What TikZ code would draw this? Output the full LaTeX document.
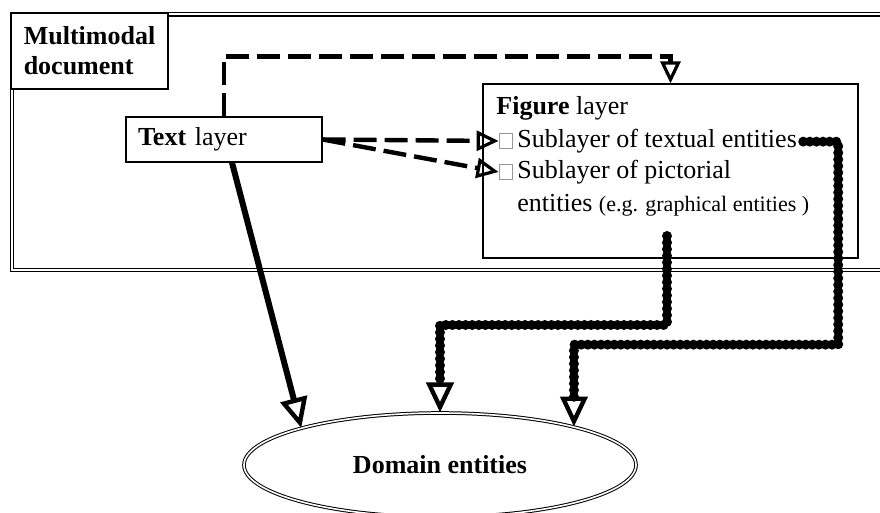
\documentclass[tikz,border=0pt]{standalone}
\usepackage{fontspec}
\setmainfont{Liberation Serif}
\usepackage{tikz}
\usetikzlibrary{arrows.meta,shapes,positioning}
\definecolor{lnblack}{RGB}{0,0,0}
\definecolor{boxgray}{RGB}{150,150,150}
\newcommand{\diagfont}{\fontsize{13}{15}\selectfont}
\tikzstyle{frame} = [draw=lnblack, double, line width=0.6pt, double distance=1pt]
\tikzstyle{layerbox} = [draw=lnblack, line width=0.6pt, rectangle, inner sep=0pt]
\tikzstyle{linetext} = [anchor=base west, inner sep=0pt]
\tikzstyle{checkbox} = [draw=boxgray, line width=0.4pt, rectangle, inner sep=0pt, minimum width=6.5pt, minimum height=7.5pt]
\tikzstyle{dasharrow} = [draw=lnblack, line width=2.2pt, dash pattern=on 11.5pt off 4pt, -{Triangle[open, length=11pt, width=10pt, line width=1.6pt]}]
\tikzstyle{chainarrow} = [draw=lnblack, line width=5pt, line cap=round, dash pattern=on 0pt off 3.3pt, -{Triangle[open, length=15pt, width=13.5pt, line width=2.2pt]}]
\tikzstyle{solidarrow} = [draw=lnblack, line width=3pt, -{Triangle[open, length=15pt, width=13.5pt, line width=2.2pt]}]

\begin{document}
\begin{tikzpicture}[x=0.5pt, y=-0.5pt, font=\diagfont]
\useasboundingbox (0,0) rectangle (880,513);
% Document frame
\draw[frame] (12,14.5) rectangle (900,270);
\node[layerbox, fill=white, minimum width=78.5pt, minimum height=38pt, align=left, font=\diagfont\bfseries] (mmdoc) at (89.5,51) {Multimodal\\document};

% Layers
\node[layerbox, minimum height=22.5pt, text width=86pt, inner xsep=6pt, align=left] (textlayer) at (224,139.5) {\textbf{Text} layer};
\node[layerbox, minimum width=187.5pt, minimum height=87pt] (figlayer) at (670.5,171) {};
\node[linetext] (figtitle) at (496,115) {\textbf{Figure} layer};
\node[checkbox] (boxA) at (505.5,141) {};
\node[linetext] (subtext) at (517,148) {Sublayer of textual entities};
\node[checkbox] (boxB) at (505.5,172) {};
\node[linetext] (subpict) at (517,179) {Sublayer of pictorial};
\node[linetext] (subpict2) at (517,212) {entities {\fontsize{11}{13}\selectfont(e.g. graphical entities )}};
\coordinate (picttail) at (667,236);

% Domain
\node[ellipse, draw=lnblack, double, line width=0.5pt, double distance=0.8pt, inner sep=0pt, minimum width=196pt, minimum height=52pt, font=\diagfont\bfseries] (domain) at (440,465) {Domain entities};

% Links
\draw[dasharrow] (textlayer.north) -- ++(0,-60) -| (figlayer.north);
\draw[dasharrow] (textlayer.east) -- (boxA.west);
\draw[dasharrow] (textlayer.east) -- (boxB.west);
\draw[solidarrow] ([xshift=4pt]textlayer.south) -- (domain.165);
\draw[chainarrow] (picttail) -- ++(0,89) -| (domain.north);
\draw[chainarrow] ([xshift=3pt]subtext.east) -- ++(35,0) -- ++(0,203) -| (domain.16);
\end{tikzpicture}
\end{document}
